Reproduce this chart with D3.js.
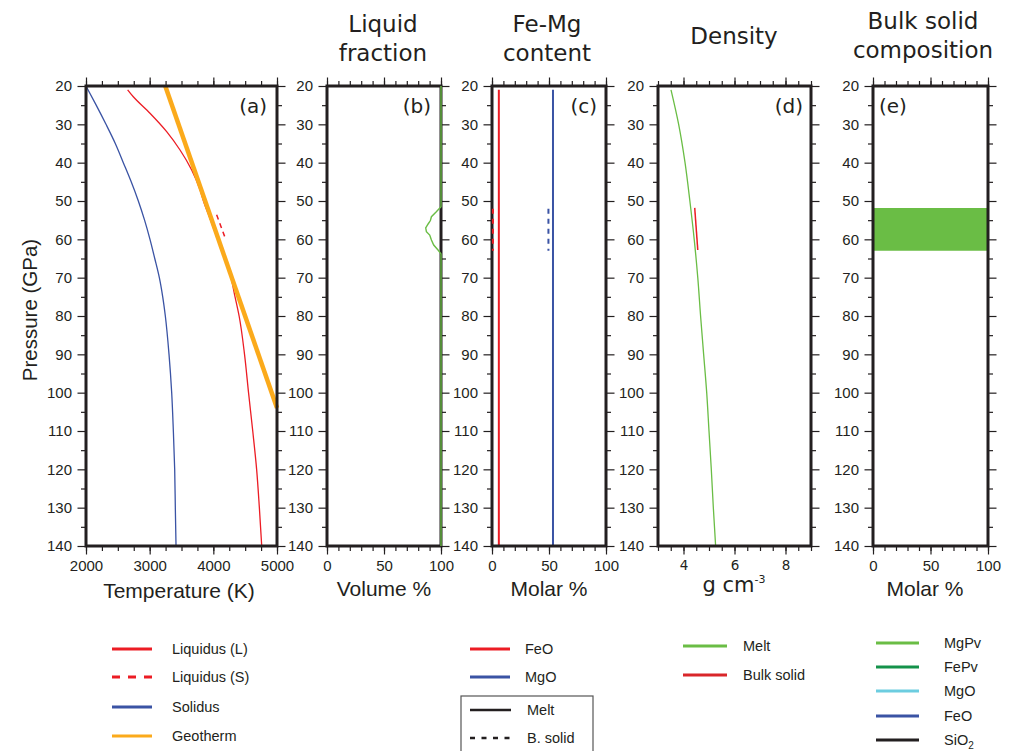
<!DOCTYPE html>
<html><head><meta charset="utf-8">
<script src="https://cdn.jsdelivr.net/npm/d3@7"></script>
<style>body{margin:0;background:#fff}</style>
</head><body><svg id="c" width="1011" height="751"></svg>
<script>
// ---------------- DATA ----------------
const pressureDomain = [20, 140];
const pressureMajor = [20, 30, 40, 50, 60, 70, 80, 90, 100, 110, 120, 130, 140];
const pressureMinor = [25, 35, 45, 55, 65, 75, 85, 95, 105, 115, 125, 135];

// (a) temperature profiles [P (GPa), T (K)]
const tempMajor = [2000, 3000, 4000, 5000];
const solidus = [[20,2000],[25,2160],[30,2314],[35,2460],[40,2586],[45,2710],[50,2822],[55,2920],[60,3005],[65,3080],[70,3152],[75,3205],[80,3246],[90,3304],[100,3346],[110,3372],[120,3393],[130,3403],[140,3414]];
const liquidusL = [[21.0,2654],[22.8,2743],[27.1,3005],[31.9,3267],[36.7,3477],[41.9,3660],[47.1,3791],[50,3845],[55,3958],[60,4068],[65,4178],[69,4262],[75,4341],[80,4405],[90,4490],[100,4553],[110,4619],[120,4680],[130,4723],[140,4760]];
const liquidusS = [[53.6,4052],[60.2,4199]];
const geotherm = [[20,3245],[104,5000]];

// (b) liquid fraction [P, volume %]
const pctMajor = [0, 50, 100];
const liquidFraction = [[20,100],[51.5,100],[52.8,95.9],[54.1,91.6],[55.1,90.7],[56.0,88.7],[57.0,86.6],[58.0,87.2],[58.9,90.1],[60.2,91.6],[61.5,93.6],[62.8,97.4],[63.8,100],[140,100]];

// (c) Fe-Mg content [P, molar %]
const feoMelt = [[21,6],[140,6]];
const mgoMelt = [[21,53.5],[140,53.5]];
const feoSolid = [[52,0.8],[63,0.8]];
const mgoSolid = [[52,49.5],[63,49.5]];

// (d) density [P, g/cm3]
const densityMajor = [4, 6, 8];
const meltDensity = [[21,3.51],[30,3.81],[40,4.06],[50,4.25],[60,4.42],[70,4.56],[80,4.67],[90,4.79],[100,4.91],[110,5.0],[120,5.09],[130,5.17],[140,5.26]];
const solidDensity = [[51.8,4.44],[62.8,4.56]];

// (e) bulk solid composition (stacked molar %)
const compPressure = [51.8, 63];
const compMgPv = [100, 100];
const compFePv = [0, 0];
const compMgO = [0, 0];
const compFeO = [0, 0];
const compSiO2 = [0, 0];

// legends
const legendA = ["Liquidus (L)", "Liquidus (S)", "Solidus", "Geotherm"];
const legendC = ["FeO", "MgO"];
const legendCStyle = ["Melt", "B. solid"];
const legendD = ["Melt", "Bulk solid"];
const legendE = ["MgPv", "FePv", "MgO", "FeO", "SiO2"];

// ---------------- STYLE ----------------
const C = {red:"#ec1c24", blue:"#3a53a4", orange:"#fbaa1b", green:"#6abd45", dgreen:"#14924a", cyan:"#6ccde0", black:"#231f20"};
const FS = "'Liberation Sans', Arial, sans-serif";
const FD = "'DejaVu Sans', sans-serif";

const svg = d3.select("#c");
const y = d3.scaleLinear().domain(pressureDomain).range([86, 546]);

function rng(a, b, s){ return d3.range(a, b + s/2, s); }

function panel(x, majors, minors, fmt, tickFont, tickFs){
  const g = svg.append("g");
  const top = y.range()[0], bot = y.range()[1];
  const x0 = x.range()[0], x1 = x.range()[1];
  const style = sel => { sel.select(".domain").remove(); sel.selectAll("line").attr("stroke", C.black).attr("stroke-width", 1.2); sel.selectAll("text").attr("fill", C.black).style("font-family", FS).style("font-size", "15px"); };
  g.append("g").attr("transform", `translate(${x0},0)`).call(d3.axisLeft(y).tickValues(pressureMajor).tickSize(8.5).tickPadding(5.5).tickFormat(d3.format("d"))).call(style);
  g.append("g").attr("transform", `translate(${x0},0)`).call(d3.axisLeft(y).tickValues(pressureMinor).tickSize(5).tickFormat("")).call(style);
  g.append("g").attr("transform", `translate(${x1},0)`).call(d3.axisRight(y).tickValues(pressureMajor).tickSize(8.5).tickFormat("")).call(style);
  g.append("g").attr("transform", `translate(${x1},0)`).call(d3.axisRight(y).tickValues(pressureMinor).tickSize(5).tickFormat("")).call(style);
  g.append("g").attr("transform", `translate(0,${top})`).call(d3.axisTop(x).tickValues(majors).tickSize(8.5).tickFormat("")).call(style);
  g.append("g").attr("transform", `translate(0,${top})`).call(d3.axisTop(x).tickValues(minors).tickSize(5).tickFormat("")).call(style);
  const b = g.append("g").attr("transform", `translate(0,${bot})`).call(d3.axisBottom(x).tickValues(majors).tickSize(8.5).tickPadding(5.8).tickFormat(fmt)).call(style);
  if (tickFont) b.selectAll("text").style("font-family", tickFont).style("font-size", tickFs);
  g.append("g").attr("transform", `translate(0,${bot})`).call(d3.axisBottom(x).tickValues(minors).tickSize(5).tickFormat("")).call(style);
  const plot = svg.append("g");
  const frame = () => svg.append("rect").attr("x", x0).attr("y", top).attr("width", x1 - x0).attr("height", bot - top)
      .attr("fill", "none").attr("stroke", C.black).attr("stroke-width", 3);
  return {plot, frame};
}

function line(g, x, data, color, w, dash, smooth){
  const gen = d3.line().x(d => x(d[1])).y(d => y(d[0]));
  if (smooth) gen.curve(d3.curveMonotoneY);
  const p = g.append("path").datum(data).attr("d", gen).attr("fill", "none").attr("stroke", color).attr("stroke-width", w);
  if (dash) p.attr("stroke-dasharray", dash);
  return p;
}

function title(lines, cx, ys){
  lines.forEach((t, i) => svg.append("text").attr("x", cx).attr("y", ys[i]).attr("text-anchor", "middle")
    .style("font-family", FD).style("font-size", "23px").attr("fill", C.black).text(t));
}
function tag(t, x, yy, anchor){
  svg.append("text").attr("x", x).attr("y", yy).attr("text-anchor", anchor).style("font-family", FD).style("font-size", "20px").attr("fill", C.black).text(t);
}
function xlabel(t, cx, yy){
  svg.append("text").attr("x", cx).attr("y", yy).attr("text-anchor", "middle").style("font-family", FS).style("font-size", "21px").attr("fill", C.black).text(t);
}

// ---------- (a) ----------
const xa = d3.scaleLinear().domain([2000, 5000]).range([86, 277]);
const pa = panel(xa, tempMajor, rng(2000, 5000, 250), d3.format("d"));
line(pa.plot, xa, solidus, C.blue, 1.3, null, true);
line(pa.plot, xa, liquidusL, C.red, 1.3, null, true);
line(pa.plot, xa, liquidusS, C.red, 1.5, "5,4");
line(pa.plot, xa, geotherm, C.orange, 4.5);
pa.frame();
tag("(a)", 267, 113, "end");
xlabel("Temperature (K)", 179, 598);
svg.append("text").attr("transform", "translate(37,310) rotate(-90)").attr("text-anchor", "middle")
  .style("font-family", FS).style("font-size", "20.5px").attr("fill", C.black).text("Pressure (GPa)");

// ---------- (b) ----------
const xb = d3.scaleLinear().domain([0, 100]).range([327, 441]);
const pb = panel(xb, pctMajor, rng(0, 100, 10), d3.format("d"));
pb.frame();
line(svg, xb, liquidFraction, C.green, 1.4);
tag("(b)", 431, 113, "end");
title(["Liquid", "fraction"], 383, [31.5, 61]);
xlabel("Volume %", 384, 596);

// ---------- (c) ----------
const xc = d3.scaleLinear().domain([0, 100]).range([492, 606]);
const pc = panel(xc, pctMajor, rng(0, 100, 10), d3.format("d"));
line(pc.plot, xc, feoMelt, C.red, 2);
line(pc.plot, xc, mgoMelt, C.blue, 2);
pc.frame();
line(svg, xc, feoSolid, C.red, 2, "5,5");
line(svg, xc, mgoSolid, C.blue, 2, "5,5");
tag("(c)", 597, 113, "end");
title(["Fe-Mg", "content"], 547, [31.5, 61]);
xlabel("Molar %", 549, 596);

// ---------- (d) ----------
const xd = d3.scaleLinear().domain([3, 9]).range([658, 811]);
const pd = panel(xd, densityMajor, rng(3, 9, 0.5), d3.format("d"), FD, "13.5px");
line(pd.plot, xd, meltDensity, C.green, 1.3, null, true);
line(pd.plot, xd, solidDensity, C.red, 1.5);
pd.frame();
tag("(d)", 803, 113, "end");
title(["Density"], 734, [44]);
{
  const t = svg.append("text").attr("x", 734).attr("y", 592).attr("text-anchor", "middle").style("font-family", FD).style("font-size", "21px").attr("fill", C.black);
  t.append("tspan").text("g cm");
  t.append("tspan").attr("dy", -9).style("font-size", "11px").text("-3");
}

// ---------- (e) ----------
const xe = d3.scaleLinear().domain([0, 100]).range([873, 988]);
const pe = panel(xe, pctMajor, rng(0, 100, 10), d3.format("d"));
const compRows = compPressure.map((p, i) => ({p, MgPv: compMgPv[i], FePv: compFePv[i], MgO: compMgO[i], FeO: compFeO[i], SiO2: compSiO2[i]}));
const compKeys = ["MgPv", "FePv", "MgO", "FeO", "SiO2"];
const compColors = [C.green, C.dgreen, C.cyan, C.blue, C.black];
const stacked = d3.stack().keys(compKeys)(compRows);
const area = d3.area().y(d => y(d.data.p)).x0(d => xe(d[0])).x1(d => xe(d[1]));
pe.plot.selectAll("path.st").data(stacked).join("path").attr("class", "st")
  .attr("d", area).attr("fill", (d, i) => compColors[i]).attr("stroke", "none");
pe.frame();
tag("(e)", 879, 113, "start");
title(["Bulk solid", "composition"], 923, [28.5, 58]);
xlabel("Molar %", 925, 596);

// ---------- legends ----------
function legendRow(x0, x1, yy, color, dash, label, tx, w){
  const l = svg.append("line").attr("x1", x0).attr("x2", x1).attr("y1", yy).attr("y2", yy).attr("stroke", color).attr("stroke-width", w || 3);
  if (dash) l.attr("stroke-dasharray", dash);
  const t = svg.append("text").attr("x", tx).attr("y", yy + 5).style("font-family", FS).style("font-size", "14.5px").attr("fill", C.black);
  if (label === "SiO2") { t.append("tspan").text("SiO"); t.append("tspan").attr("dy", 4).style("font-size", "10px").text("2"); }
  else t.text(label);
}
const aColors = [C.red, C.red, C.blue, C.orange];
const aDash = [null, "8,8", null, null];
const aY = [649, 677, 707, 736];
legendA.forEach((l, i) => legendRow(112, 152, aY[i], aColors[i], aDash[i], l, 172));

const cColors = [C.red, C.blue];
const cY = [649, 677];
legendC.forEach((l, i) => legendRow(470, 510, cY[i], cColors[i], null, l, 525));
svg.append("rect").attr("x", 461).attr("y", 696).attr("width", 132).attr("height", 80).attr("fill", "none").attr("stroke", "#555").attr("stroke-width", 1.2);
const csDash = [null, "5,6.5"];
const csY = [710, 738];
legendCStyle.forEach((l, i) => legendRow(470, 511, csY[i], C.black, csDash[i], l, 527, 2.5));

const dColors = [C.green, "#d9262a"];
const dY = [646, 675];
legendD.forEach((l, i) => legendRow(683, 727, dY[i], dColors[i], null, l, 743));

const eY = [643, 667, 691, 716, 740];
legendE.forEach((l, i) => legendRow(876, 919, eY[i], compColors[i], null, l, 944));
</script></body></html>
